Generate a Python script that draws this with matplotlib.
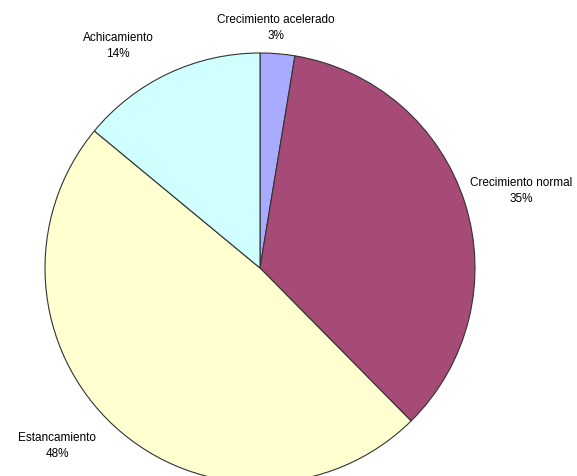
import matplotlib
matplotlib.use('Agg')
import matplotlib.pyplot as plt

# Data
categories = ['Crecimiento acelerado', 'Crecimiento normal', 'Estancamiento', 'Achicamiento']
shares = [2.6, 35.0, 48.4, 14.0]
colors = ['#A8ABFF', '#A64A78', '#FFFFD0', '#D0FFFF']

# label centres in pixels (x, y from top)
label_px = [(276, 28), (521, 191), (57, 446), (118, 46)]

W, H = 577, 476
cx, cy, r = 260, 268, 215

fig = plt.figure(figsize=(W / 100, H / 100), dpi=100)
ax = fig.add_axes([0, 0, 1, 1])
ax.pie(shares, colors=colors, startangle=90, counterclock=False,
       wedgeprops=dict(edgecolor='#333333', linewidth=0.8))
ax.set_xlim(-cx / r, (W - cx) / r)
ax.set_ylim(-(H - cy) / r, cy / r)
ax.set_aspect('auto')
ax.axis('off')

for name, val, (px, py) in zip(categories, shares, label_px):
    fig.text(px / W, 1 - py / H, f'{name}\n{val:.0f}%', ha='center', va='center',
             multialignment='center', fontsize=8.5, family='Liberation Sans',
             linespacing=1.55)

fig.savefig('out.png', dpi=100)
